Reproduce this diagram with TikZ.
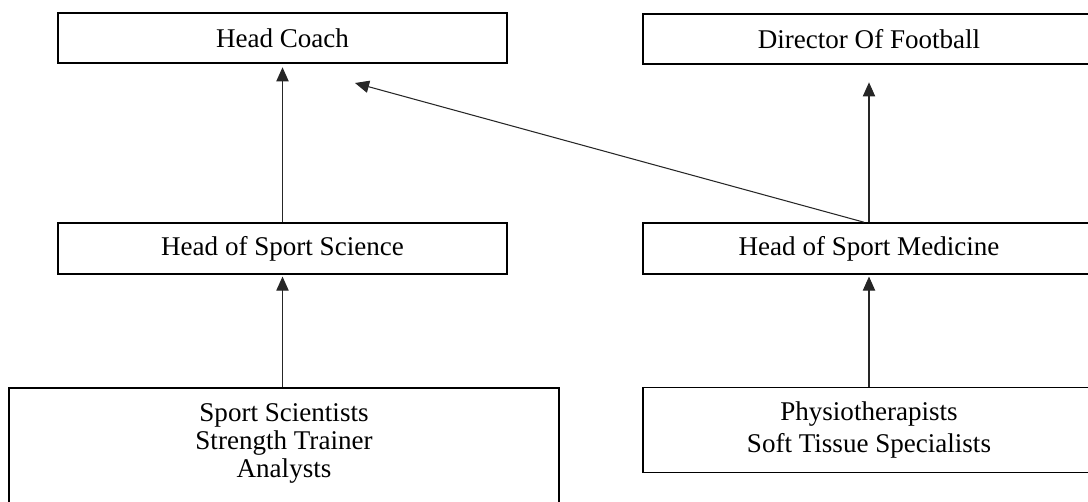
\documentclass[tikz,border=0pt]{standalone}
\usepackage{fontspec}
\setmainfont{Liberation Serif}
\usepackage{tikz}
\usetikzlibrary{arrows.meta, positioning, calc}

\begin{document}
\begin{tikzpicture}[x=0.02cm, y=-0.02cm,
    rolebox/.style={rectangle, draw=black, line width=0.9pt, minimum height=1cm, inner sep=2pt, align=center, font=\fontsize{15.4}{18}\selectfont},
    link/.style={draw=black!85, line width=0.6pt, -{Triangle[length=8pt, width=7pt]}}]
    \useasboundingbox (0,0) rectangle (1088,501);

    % Top row
    \node[rolebox, minimum width=8.98cm] (coach) at (282.5,38) {Head Coach};
    \node[rolebox, minimum width=9.04cm] (director) at (869,39) {Director Of Football};

    % Middle row
    \node[rolebox, minimum width=8.98cm, minimum height=1.02cm] (science) at (282.5,248.5) {Head of Sport Science};
    \node[rolebox, minimum width=9.04cm, minimum height=1.02cm] (medicine) at (869,248.5) {Head of Sport Medicine};

    % Staff
    \node[rolebox, minimum width=11cm, anchor=north, inner ysep=8.8pt, text depth=1.6cm, font=\fontsize{15.4}{15.9}\selectfont] (scistaff) at (284,387) {Sport Scientists\\Strength Trainer\\Analysts};
    \node[rolebox, minimum width=9.04cm, minimum height=1.7cm, font=\fontsize{15.4}{18.7}\selectfont] (medstaff) at (869,430) {Physiotherapists\\Soft Tissue Specialists};
    \coordinate (coachin) at (355,83);

    % Arrows
    \draw[link, shorten >=2pt] (science) -- (coach);
    \draw[link, shorten >=1pt] (scistaff.north -| science.south) -- (science);
    \draw[link, shorten >=1pt] (medstaff) -- (medicine);
    \draw[link, shorten >=10pt] (medicine) -- (director);
    \draw[link] ([xshift=-0.1cm]medicine.north) -- (coachin);
\end{tikzpicture}
\end{document}
